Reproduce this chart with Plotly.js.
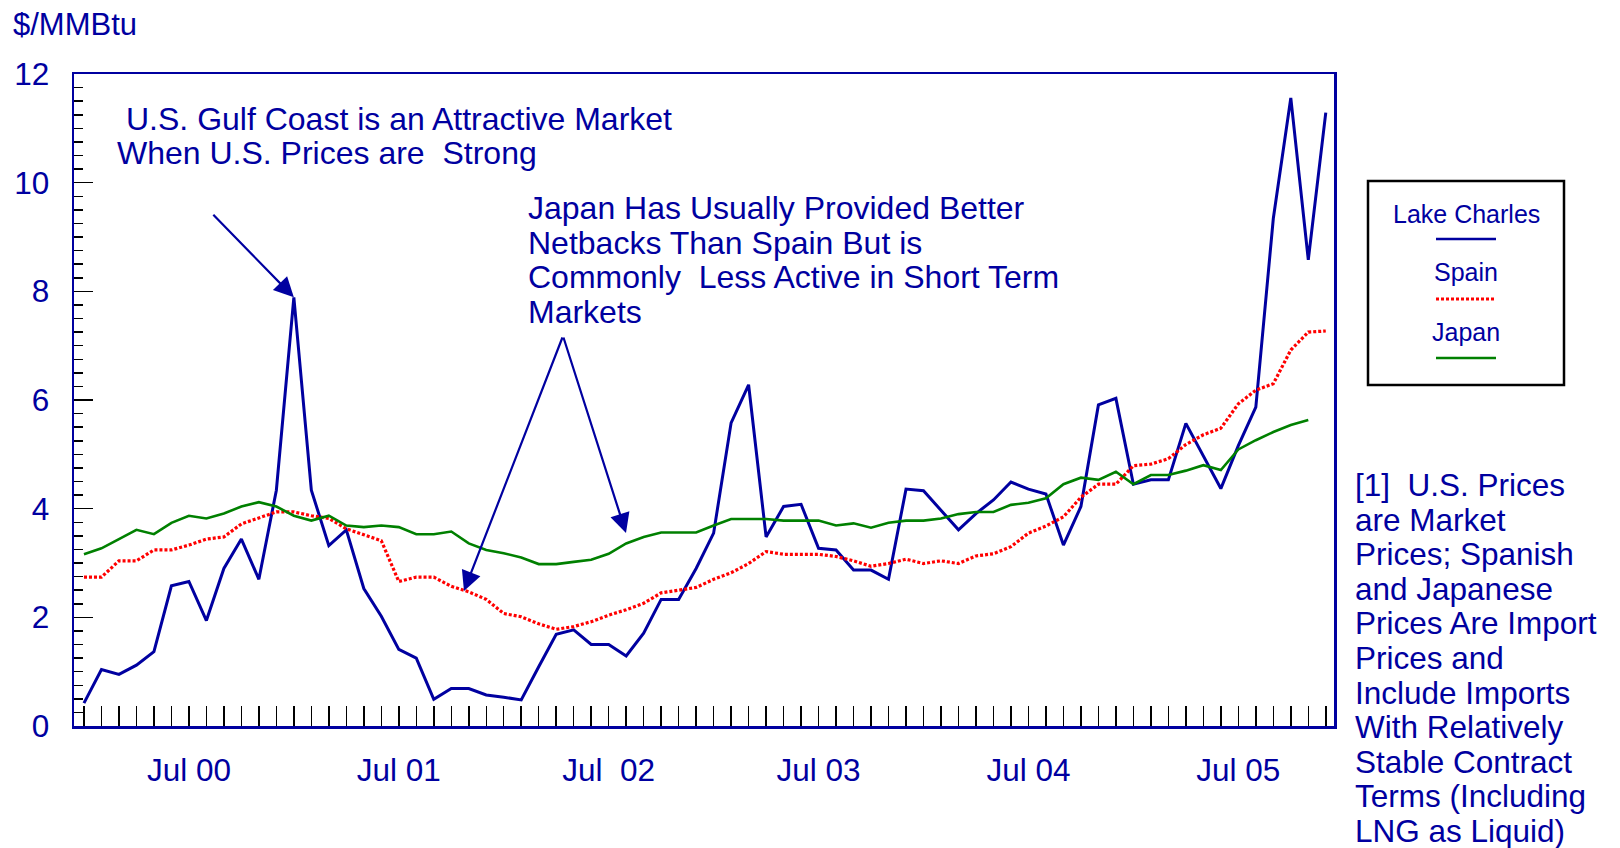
<!DOCTYPE html>
<html>
<head>
<meta charset="utf-8">
<script src="https://cdn.plot.ly/plotly-3.0.1.min.js"></script>
<style>
  html, body { margin: 0; padding: 0; background: #ffffff; }
  #chart { width: 1620px; height: 848px; }
</style>
</head>
<body>
<div id="chart"></div>
<script>
// ---------------- DATA ----------------
const months = [
  "Jan 00","Feb 00","Mar 00","Apr 00","May 00","Jun 00","Jul 00","Aug 00","Sep 00","Oct 00","Nov 00","Dec 00",
  "Jan 01","Feb 01","Mar 01","Apr 01","May 01","Jun 01","Jul 01","Aug 01","Sep 01","Oct 01","Nov 01","Dec 01",
  "Jan 02","Feb 02","Mar 02","Apr 02","May 02","Jun 02","Jul 02","Aug 02","Sep 02","Oct 02","Nov 02","Dec 02",
  "Jan 03","Feb 03","Mar 03","Apr 03","May 03","Jun 03","Jul 03","Aug 03","Sep 03","Oct 03","Nov 03","Dec 03",
  "Jan 04","Feb 04","Mar 04","Apr 04","May 04","Jun 04","Jul 04","Aug 04","Sep 04","Oct 04","Nov 04","Dec 04",
  "Jan 05","Feb 05","Mar 05","Apr 05","May 05","Jun 05","Jul 05","Aug 05","Sep 05","Oct 05","Nov 05","Dec 05"
];

const lakeCharles = [
  0.42,1.04,0.95,1.12,1.37,2.58,2.66,1.94,2.90,3.44,2.70,4.34,
  7.89,4.34,3.32,3.61,2.53,2.02,1.41,1.25,0.49,0.69,0.69,0.57,
  0.53,0.48,1.09,1.69,1.77,1.50,1.50,1.29,1.71,2.33,2.33,2.90,
  3.55,5.58,6.28,3.48,4.04,4.08,3.27,3.24,2.87,2.87,2.70,4.36,
  4.33,3.97,3.61,3.91,4.16,4.49,4.36,4.27,3.33,4.04,5.91,6.03,
  4.45,4.53,4.53,5.57,4.96,4.37,5.16,5.87,9.34,11.56,8.58,11.29
];

const spain = [
  2.74,2.74,3.04,3.04,3.24,3.24,3.33,3.44,3.48,3.72,3.83,3.94,
  3.94,3.87,3.82,3.63,3.52,3.41,2.66,2.74,2.74,2.57,2.47,2.33,
  2.07,2.01,1.88,1.78,1.83,1.92,2.04,2.14,2.26,2.45,2.50,2.55,
  2.70,2.82,2.99,3.21,3.16,3.16,3.16,3.12,3.04,2.94,2.99,3.07,
  2.99,3.04,2.99,3.13,3.17,3.30,3.55,3.68,3.85,4.21,4.45,4.45,
  4.79,4.82,4.92,5.18,5.36,5.48,5.93,6.18,6.30,6.92,7.25,7.27
];

const japan = [
  3.16,3.27,3.44,3.61,3.53,3.74,3.87,3.82,3.91,4.04,4.12,4.04,
  3.87,3.78,3.87,3.69,3.66,3.69,3.66,3.53,3.53,3.58,3.36,3.24,
  3.18,3.10,2.98,2.98,3.02,3.06,3.17,3.36,3.48,3.56,3.56,3.56,
  3.69,3.81,3.81,3.81,3.78,3.78,3.78,3.69,3.73,3.65,3.74,3.78,
  3.78,3.82,3.90,3.94,3.94,4.07,4.11,4.19,4.45,4.57,4.53,4.68,
  4.45,4.62,4.62,4.70,4.80,4.71,5.09,5.26,5.41,5.54,5.63,null
];

const seriesNames = ["Lake Charles", "Spain", "Japan"];
const labelledMonths = ["Jul 00","Jul 01","Jul 02","Jul 03","Jul 04","Jul 05"];
const tickLabels = ["Jul 00","Jul 01","Jul\u00a0 02","Jul 03","Jul 04","Jul 05"];
const yTitle = "$/MMBtu";
const gulfNote = ["U.S. Gulf Coast is an Attractive Market", "When U.S. Prices are\u00a0 Strong"];
const japanNote = ["Japan Has Usually Provided Better", "Netbacks Than Spain But is",
                   "Commonly\u00a0 Less Active in Short Term", "Markets"];
const footnote = ["[1]\u00a0 U.S. Prices", "are Market", "Prices; Spanish", "and Japanese",
                  "Prices Are Import", "Prices and", "Include Imports", "With Relatively",
                  "Stable Contract", "Terms (Including", "LNG as Liquid)"];

// ---------------- STYLE ----------------
const BLUE = "#0000A0";
const RED = "#FF0000";
const GREEN = "#008000";
const FONT = '"Liberation Sans", Arial, Helvetica, sans-serif';

const W = 1620, H = 848;
const M = {l: 74, r: 286, t: 74, b: 122};
const PW = W - M.l - M.r, PH = H - M.t - M.b;
const px = x => (x - M.l) / PW;
const py = y => (H - M.b - y) / PH;

const tickText = months.map(m => {
  const k = labelledMonths.indexOf(m);
  return k >= 0 ? tickLabels[k] : "";
});

const traces = [
  {x: months, y: lakeCharles, name: seriesNames[0], type: "scatter", mode: "lines",
   line: {color: BLUE, width: 3}},
  {x: months, y: spain, name: seriesNames[1], type: "scatter", mode: "lines",
   line: {color: RED, width: 3.2, dash: "3px,2px"}},
  {x: months, y: japan, name: seriesNames[2], type: "scatter", mode: "lines",
   line: {color: GREEN, width: 2.6}}
];

const annotations = [];
function txt(text, x, y, size, anchor) {
  annotations.push({text: text, xref: "paper", yref: "paper", x: px(x), y: py(y),
    xanchor: anchor || "left", yanchor: "middle", showarrow: false,
    font: {family: FONT, size: size, color: BLUE}, borderpad: 0});
}
txt(yTitle, 12, 24, 31);
txt(gulfNote[0], 125, 118.5, 32);
txt(gulfNote[1], 116, 152.5, 32);
const jy = [208, 242.5, 277, 312];
japanNote.forEach((t, i) => txt(t, 527, jy[i], 32));
footnote.forEach((t, i) => txt(t, 1354, 485 + 34.6 * i, 31.5));
// legend labels
txt(seriesNames[0], 1466, 213.5, 25, "center");
txt(seriesNames[1], 1466, 272, 25, "center");
txt(seriesNames[2], 1466, 332, 25, "center");

// arrows
function arrow(tipX, tipY, tailX, tailY) {
  annotations.push({text: "", xref: "paper", yref: "paper", x: px(tipX), y: py(tipY),
    ax: tailX - tipX, ay: tailY - tipY, showarrow: true, arrowhead: 2,
    arrowsize: 1.8, arrowwidth: 2.2, arrowcolor: BLUE, standoff: 0, startstandoff: 0});
}
// arrow to the Lake Charles peak (data point)
annotations.push({text: "", xref: "x", yref: "y", x: months[12], y: lakeCharles[12],
  ax: -82, ay: -84, showarrow: true, arrowhead: 2, arrowsize: 1.8, arrowwidth: 2.2,
  arrowcolor: BLUE, standoff: 0});
arrow(464, 591, 563, 336);
arrow(626, 533, 563, 336);

const shapes = [
  {type: "rect", xref: "paper", yref: "paper", x0: px(1368), x1: px(1564), y0: py(181), y1: py(385),
   line: {color: "#000000", width: 2.5}, fillcolor: "rgba(0,0,0,0)"},
  {type: "line", xref: "paper", yref: "paper", x0: px(1436), x1: px(1496), y0: py(239), y1: py(239),
   line: {color: BLUE, width: 2.5}},
  {type: "line", xref: "paper", yref: "paper", x0: px(1436), x1: px(1495), y0: py(299), y1: py(299),
   line: {color: RED, width: 3, dash: "3px,2px"}},
  {type: "line", xref: "paper", yref: "paper", x0: px(1436), x1: px(1496), y0: py(358), y1: py(358),
   line: {color: GREEN, width: 2.5}}
];

const layout = {
  width: W, height: H,
  margin: {l: M.l, r: M.r, t: M.t, b: M.b, pad: 0},
  paper_bgcolor: "#ffffff", plot_bgcolor: "#ffffff",
  showlegend: false,
  font: {family: FONT, color: BLUE, size: 31},
  xaxis: {
    type: "category", range: [-0.57, 71.47], fixedrange: true,
    tickmode: "array", tickvals: months, ticktext: tickText, tickangle: 0,
    ticks: "inside", ticklen: 20, tickwidth: 1.5, tickcolor: "#000000",
    showline: true, mirror: true, linecolor: BLUE, linewidth: 2.5,
    showgrid: false, zeroline: false, ticklabelstandoff: 15,
    tickfont: {family: FONT, size: 31.5, color: BLUE}
  },
  yaxis: {
    range: [0, 12], tick0: 0, dtick: 2, fixedrange: true,
    ticks: "inside", ticklen: 19, tickwidth: 1.5, tickcolor: "#000000",
    minor: {dtick: 0.25, ticks: "inside", ticklen: 9, tickwidth: 1.5, tickcolor: "#000000", showgrid: false},
    showline: true, mirror: true, linecolor: BLUE, linewidth: 2.5,
    showgrid: false, zeroline: false, ticklabelstandoff: 16,
    tickfont: {family: FONT, size: 31.5, color: BLUE}
  },
  annotations: annotations,
  shapes: shapes
};

Plotly.newPlot("chart", traces, layout, {staticPlot: true, displayModeBar: false});
</script>
</body>
</html>
